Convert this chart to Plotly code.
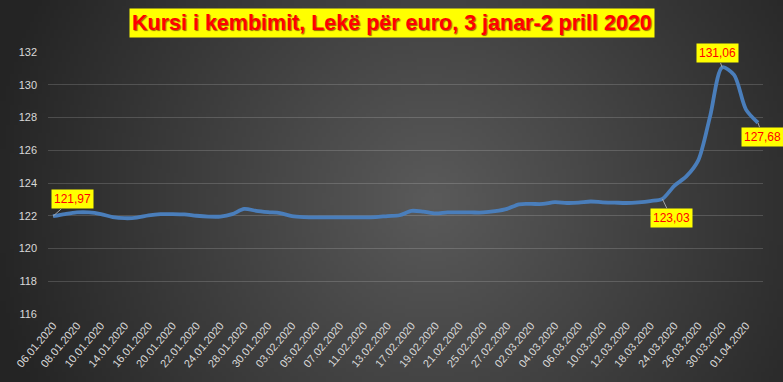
import base64, struct, zlib, math
import plotly.graph_objects as go

dates = ["06.01.2020","07.01.2020","08.01.2020","09.01.2020","10.01.2020",
         "13.01.2020","14.01.2020","15.01.2020","16.01.2020","17.01.2020",
         "20.01.2020","21.01.2020","22.01.2020","23.01.2020","24.01.2020",
         "27.01.2020","28.01.2020","29.01.2020","30.01.2020","31.01.2020",
         "03.02.2020","04.02.2020","05.02.2020","06.02.2020","07.02.2020",
         "10.02.2020","11.02.2020","12.02.2020","13.02.2020","14.02.2020",
         "17.02.2020","18.02.2020","19.02.2020","20.02.2020","21.02.2020",
         "24.02.2020","25.02.2020","26.02.2020","27.02.2020","28.02.2020",
         "02.03.2020","03.03.2020","04.03.2020","05.03.2020","06.03.2020",
         "09.03.2020","10.03.2020","11.03.2020","12.03.2020","13.03.2020",
         "18.03.2020","20.03.2020","24.03.2020","25.03.2020","26.03.2020",
         "27.03.2020","30.03.2020","31.03.2020","01.04.2020","02.04.2020"]

rates = [121.97,122.10,122.20,122.20,122.10,
         121.92,121.85,121.88,122.02,122.10,
         122.10,122.08,122.00,121.95,121.95,
         122.10,122.42,122.30,122.22,122.16,
         121.98,121.92,121.90,121.90,121.90,
         121.90,121.90,121.92,121.98,122.03,
         122.30,122.25,122.14,122.20,122.20,
         122.20,122.20,122.28,122.42,122.70,
         122.72,122.72,122.83,122.78,122.80,
         122.87,122.82,122.80,122.78,122.82,
         122.90,123.03,123.83,124.40,125.38,
         128.10,131.06,130.60,128.48,127.68]

label_points = ["06.01.2020", "20.03.2020", "30.03.2020", "02.04.2020"]
label_texts = ["121,97", "123,03", "131,06", "127,68"]
label_offsets = [(19, -17), (9, 19), (-5, -14), (5, 14)]

title_text = "Kursi i kembimit, Lekë për euro, 3 janar-2 prill 2020"
y_ticks = list(range(116, 133, 2))

W, H = 783, 382
ML, MR, MT, MB = 48, 20, 52, 68
PW, PH = W - ML - MR, H - MT - MB

# radial gradient background image
def make_png(w, h):
    rows = []
    cx, cy, r = 0.55 * w, 0.52 * h, 0.57 * w
    for j in range(h):
        row = bytearray([0])
        for i in range(w):
            t = min(1.0, math.hypot(i - cx, (j - cy)) / r)
            v = int(round(0x5a + (0x24 - 0x5a) * t))
            row += bytes([v, v, v])
        rows.append(bytes(row))
    raw = b"".join(rows)
    def chunk(tag, data):
        c = struct.pack(">I", len(data)) + tag + data
        return c + struct.pack(">I", zlib.crc32(tag + data) & 0xffffffff)
    png = b"\x89PNG\r\n\x1a\n" + chunk(b"IHDR", struct.pack(">IIBBBBB", w, h, 8, 2, 0, 0, 0))
    png += chunk(b"IDAT", zlib.compress(raw, 9)) + chunk(b"IEND", b"")
    return "data:image/png;base64," + base64.b64encode(png).decode()

bg = make_png(196, 96)

fig = go.Figure()
fig.add_trace(go.Scatter(
    x=dates, y=rates, mode="lines",
    line=dict(color="#4a7ebb", width=3.8, shape="spline", smoothing=0.8),
    hoverinfo="x+y", showlegend=False,
))

annotations = []
for p, t, (ax, ay) in zip(label_points, label_texts, label_offsets):
    annotations.append(dict(
        x=p, y=rates[dates.index(p)], xref="x", yref="y",
        text=t, showarrow=True, arrowhead=0, arrowwidth=1, arrowcolor="#a6a6a6",
        ax=ax, ay=ay, standoff=0,
        bgcolor="#ffff00", borderpad=2,
        font=dict(family="Liberation Sans, Arial, sans-serif", size=12, color="#ff0000"),
    ))

annotations.append(dict(
    x=(391.5 - ML) / PW, y=1 + (MT - 23) / PH, xref="paper", yref="paper",
    xanchor="center", yanchor="middle", showarrow=False,
    text="<b>" + title_text + "</b>", bgcolor="#ffff00", borderpad=2,
    font=dict(family="Liberation Sans, Arial, sans-serif", size=21.5, color="#ff0000",
              shadow="1px 1px 1px rgba(90,0,0,0.6)"),
))

fig.update_layout(
    width=W, height=H,
    margin=dict(l=ML, r=MR, t=MT, b=MB, pad=0),
    paper_bgcolor="#2e2e2e", plot_bgcolor="rgba(0,0,0,0)",
    images=[dict(source=bg, xref="paper", yref="paper",
                 x=-ML / PW, y=1 + MT / PH, sizex=W / PW, sizey=H / PH,
                 xanchor="left", yanchor="top", sizing="stretch", layer="below")],
    annotations=annotations,
    font=dict(family="Liberation Sans, Arial, sans-serif", color="#d9d9d9"),
)

fig.update_xaxes(
    type="category", categoryorder="array", categoryarray=dates,
    range=[-0.42, len(dates) - 1 + 0.42],
    tickmode="array", tickvals=dates[::2], ticktext=dates[::2],
    tickangle=-50, tickfont=dict(size=11, color="#d9d9d9"),
    showgrid=False, zeroline=False, showline=False, ticks="",
    ticklabelstandoff=2,
)
fig.update_yaxes(
    range=[116, 132], tickmode="array", tickvals=y_ticks,
    tickfont=dict(size=11, color="#d9d9d9"),
    showgrid=True, gridcolor="rgba(255,255,255,0.16)", gridwidth=1,
    zeroline=False, showline=False, ticks="", ticklabelstandoff=10,
)

fig.write_html("out.html", config={"displayModeBar": False},
               post_script="document.body.style.margin='0';document.body.style.overflow='hidden';")
